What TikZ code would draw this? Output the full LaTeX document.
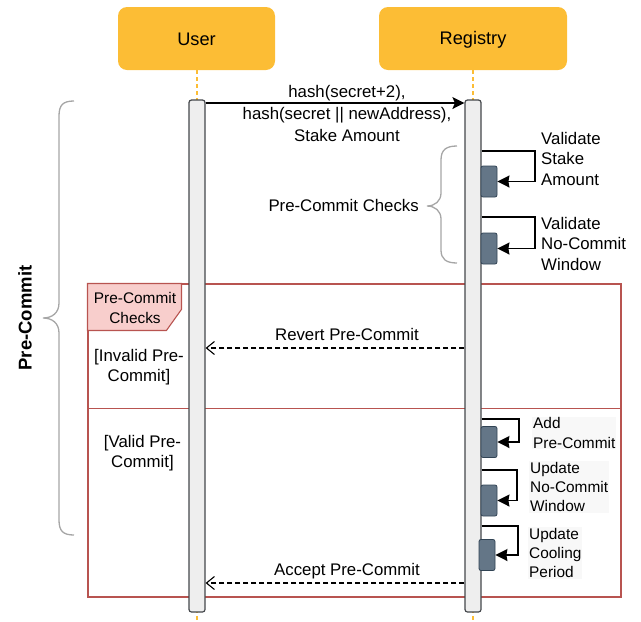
\documentclass[tikz,border=0pt]{standalone}
\usepackage{fontspec}
\setmainfont{Liberation Sans}
\usetikzlibrary{arrows.meta}

\definecolor{hdrfill}{HTML}{FCBD35}
\definecolor{barfill}{HTML}{EEEEEE}
\definecolor{barline}{HTML}{44474B}
\definecolor{execfill}{HTML}{647687}
\definecolor{execline}{HTML}{314354}
\definecolor{altline}{HTML}{B85450}
\definecolor{altfill}{HTML}{F8CECC}
\definecolor{bracegray}{HTML}{A6A6A6}
\definecolor{notefill}{HTML}{F8F8F8}

\tikzset{
  header/.style={fill=hdrfill, rounded corners=9pt, minimum height=63pt,
    font=\fontsize{18.2}{22}\selectfont, inner sep=0pt},
  lifeline/.style={draw=hdrfill, line width=1.4pt, dash pattern=on 4pt off 3pt},
  actbar/.style={draw=barline, fill=barfill, line width=1.2pt, rounded corners=2.5pt,
    minimum width=16pt, minimum height=512pt, inner sep=0pt},
  execbox/.style={draw=execline, fill=execfill, line width=0.8pt, rounded corners=2pt,
    minimum width=16pt, minimum height=31pt, inner sep=0pt},
  callmsg/.style={line width=1.3pt, -{Stealth[length=12pt,width=12pt,inset=2.5pt]}},
  selfmsg/.style={line width=1.3pt, -{Stealth[length=12pt,width=12pt,inset=1pt]}},
  retmsg/.style={line width=1.1pt, dash pattern=on 5pt off 3pt,
    -{Straight Barb[length=8pt,width=13pt,line width=1.1pt]}},
  lbl/.style={font=\fontsize{16.8}{20}\selectfont, inner sep=0pt, align=center},
  lbll/.style={font=\fontsize{16.8}{20.5}\selectfont, inner sep=0pt, align=left},
  lbls/.style={font=\fontsize{15.4}{19.3}\selectfont, inner sep=1pt, align=left, fill=notefill},
  altframe/.style={draw=altline, line width=1.1pt},
  bracepath/.style={draw=bracegray, line width=1.3pt},
}

\begin{document}
\begin{tikzpicture}[x=1pt, y=-1pt]
\useasboundingbox (0,0) rectangle (641,622);

% participants
\node[header, minimum width=157pt] (user) at (196.5,38.5) {};
\node[header, minimum width=188pt] (reg) at (473,38.5) {};
\node[font=\fontsize{18.2}{22}\selectfont, inner sep=0pt] (usertxt) at (196.5,39.5) {User};
\node[font=\fontsize{18.2}{22}\selectfont, inner sep=0pt] (regtxt) at (473,39.5) {Registry};

% lifelines
\coordinate (bottom) at (0,622);
\draw[lifeline] (user.south -| 197,0) -- (197,622);
\draw[lifeline] (reg.south) -- (reg.south |- bottom);

% alternative frame
\node[altframe, minimum width=533pt, minimum height=313pt, inner sep=0pt] (alt) at (354.5,440.5) {};
\coordinate (split) at (0,408.5);
\draw[altframe] (alt.west |- split) -- (alt.east |- split);
\draw[altframe, fill=altfill] (alt.north west) -- ++(94,0) -- ++(0,26) -- ++(-15,21)
  -- ++(-79,0) -- cycle;
\node[font=\fontsize{15.4}{20}\selectfont, inner sep=0pt, align=center] (tab) at (135,308)
  {Pre-Commit\\Checks};

% activation bars
\node[actbar] (ub) at (197,356) {};
\node[actbar] (rb) at (473,356) {};

% request
\coordinate (m1) at (0,103);
\draw[callmsg] (ub.east |- m1) -- (rb.west |- m1);
\node[lbl, font=\fontsize{16.8}{22}\selectfont] (req) at (347,113.5)
  {hash(secret+2),\\hash(secret || newAddress),\\Stake Amount};

% checks on the registry
\node[execbox] (e1) at (489,181.5) {};
\node[execbox] (e2) at (489,248.5) {};
\coordinate (t1) at (535,151);
\coordinate (t2) at (535,217);
\draw[selfmsg] (rb.east |- t1) -- (t1) |- (e1.east);
\draw[selfmsg] (rb.east |- t2) -- (t2) |- (e2.east);
\node[lbll, anchor=west] (v1) at (541,158.5) {Validate\\Stake\\Amount};
\node[lbll, anchor=west] (v2) at (541,243.5) {Validate\\No-Commit\\Window};

% brace around the checks
\draw[bracepath] (457,146) .. controls (446,146) and (441,150) .. (441,160)
  -- (441,193) .. controls (441,201) and (435,206) .. (427,206)
  .. controls (435,206) and (441,211) .. (441,219)
  -- (441,250) .. controls (441,259) and (446,263) .. (457,263);
\node[lbl, anchor=east] (chk) at (419,205.5) {Pre-Commit Checks};

% invalid branch
\node[lbl] (inv) at (139,367.5) {[Invalid Pre-\\Commit]};
\coordinate (m2) at (0,348);
\draw[retmsg] (rb.west |- m2) -- (ub.east |- m2);
\node[lbl] (rev) at (347,334.5) {Revert Pre-Commit};

% valid branch
\node[lbl] (val) at (142.5,453.5) {[Valid Pre-\\Commit]};
\node[execbox] (e3) at (489,442) {};
\node[execbox] (e4) at (489,500.5) {};
\node[execbox] (e5) at (487,555) {};
\coordinate (t3) at (519,419);
\coordinate (t4) at (517,470);
\coordinate (t5) at (518,526);
\draw[selfmsg] (rb.east |- t3) -- (t3) |- (e3.east);
\draw[selfmsg] (rb.east |- t4) -- (t4) |- (e4.east);
\draw[selfmsg] (rb.east |- t5) -- (t5) |- (e5.east);
\node[lbls, anchor=west] (a1) at (532,433) {Add\\Pre-Commit};
\node[lbls, anchor=west] (a2) at (529,487) {Update\\No-Commit\\Window};
\node[lbls, anchor=west] (a3) at (528,553) {Update\\Cooling\\Period};
\coordinate (m3) at (0,583);
\draw[retmsg] (rb.west |- m3) -- (ub.east |- m3);
\node[lbl] (acc) at (347,571) {Accept Pre-Commit};

% outer brace and phase title
\draw[bracepath] (74,101) .. controls (63,101) and (59,105) .. (59,116)
  -- (59,303) .. controls (59,313) and (52,318) .. (43,318)
  .. controls (52,318) and (59,323) .. (59,333)
  -- (59,520) .. controls (59,531) and (63,535) .. (74,535);
\node[font=\bfseries\fontsize{18.5}{22}\selectfont, inner sep=0pt, rotate=90] (phase) at (25,318) {Pre-Commit};
\end{tikzpicture}
\end{document}
